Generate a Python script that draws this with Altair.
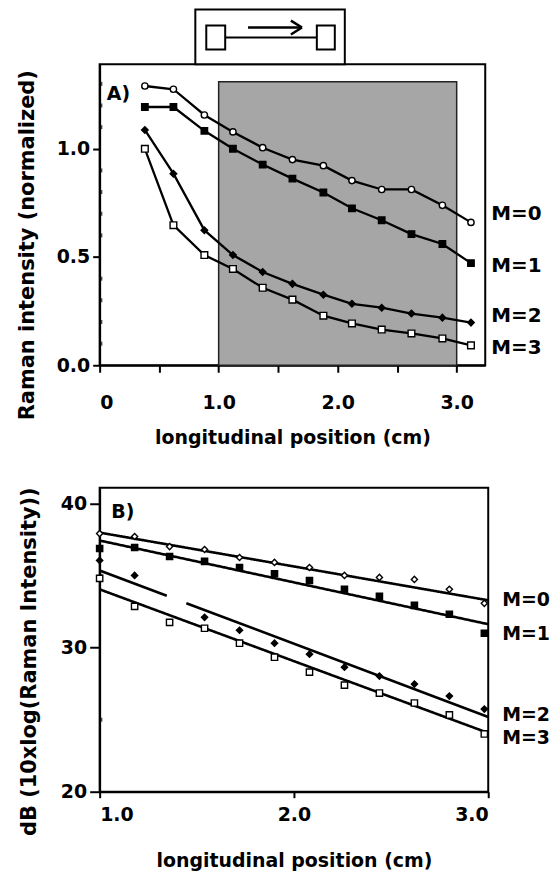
import altair as alt
import pandas as pd

# ---------------- data ----------------
series = ["M=0", "M=1", "M=2", "M=3"]

# Panel A: normalized Raman intensity vs longitudinal position (cm)
x_a = [0.38, 0.62, 0.88, 1.12, 1.37, 1.62, 1.88, 2.12, 2.37, 2.62, 2.88, 3.12]
a_m0 = [1.29, 1.275, 1.156, 1.078, 1.005, 0.95, 0.922, 0.853, 0.812, 0.812, 0.739, 0.66]
a_m1 = [1.193, 1.193, 1.083, 1.0, 0.927, 0.862, 0.798, 0.725, 0.67, 0.606, 0.56, 0.472]
a_m2 = [1.087, 0.885, 0.624, 0.509, 0.431, 0.376, 0.326, 0.284, 0.266, 0.239, 0.22, 0.197]
a_m3 = [1.0, 0.647, 0.509, 0.445, 0.358, 0.303, 0.229, 0.193, 0.165, 0.147, 0.124, 0.092]
shade_x = [1.0, 3.0]
shade_top = 1.31

# Panel B: dB (10 log(Raman intensity)) vs longitudinal position (cm)
x_b = [1.0, 1.18, 1.36, 1.54, 1.72, 1.9, 2.08, 2.26, 2.44, 2.62, 2.8, 2.98]
b_m0 = [37.92, 37.72, 37.02, 36.82, 36.26, 35.92, 35.57, 35.02, 34.88, 34.74, 34.05, 33.08]
b_m1 = [36.89, 36.96, 36.33, 35.99, 35.57, 35.13, 34.67, 34.05, 33.56, 32.94, 32.32, 31.0]
b_m2 = [36.06, 35.02, None, 32.11, 31.21, 30.31, 29.55, 28.65, 28.03, 27.47, 26.64, 25.74]
b_m3 = [34.81, 32.87, 31.76, 31.35, 30.31, 29.34, 28.3, 27.4, 26.85, 26.16, 25.33, 24.01]
fit_x = [1.0, 3.0]
fit_m0 = [37.99, 33.29]
fit_m1 = [37.44, 31.63]
fit_m2 = [35.36, 25.19]
fit_m3 = [34.05, 24.08]

# axis tick values
xa_ticks = [0, 0.5, 1, 1.5, 2, 2.5, 3]
ya_major = [0, 0.5, 1.0]
ya_minor = [0.1, 0.2, 0.3, 0.4, 0.6, 0.7, 0.8, 0.9, 1.1, 1.2, 1.3]
xb_ticks = [1, 2, 3]
yb_major = [20, 30, 40]
yb_minor = [25, 35]


def long_df(xs, ys_list):
    rows = []
    for s, ys in zip(series, ys_list):
        for x, y in zip(xs, ys):
            if y is not None:
                rows.append({"x": x, "y": y, "s": s})
    return pd.DataFrame(rows)


dfa = long_df(x_a, [a_m0, a_m1, a_m2, a_m3])
dfb = long_df(x_b, [b_m0, b_m1, b_m2, b_m3])
dfit = long_df(fit_x, [fit_m0, fit_m1, fit_m2, fit_m3])

FONT = "DejaVu Sans"
WA, HA = 387, 302
WB, HB = 390, 305

ax_common = dict(
    domainColor="black", domainWidth=2, tickColor="black", tickWidth=2,
    labelColor="black", titleColor="black", labelFont=FONT, titleFont=FONT,
    labelFontWeight="bold", titleFontWeight="bold", labelFontSize=19,
    grid=False, labelOverlap=False,
)

# ---------------- panel A ----------------
xa_scale = alt.Scale(domain=[0, 3.24], nice=False, zero=False)
ya_scale = alt.Scale(domain=[0, 1.39], nice=False, zero=False)

xa_axis = alt.Axis(
    values=xa_ticks,
    labelExpr="datum.value == 0 ? '0' : (datum.value % 1 == 0 ? format(datum.value, '.1f') : '')",
    tickSize=7, labelPadding=21, titlePadding=17, titleFontSize=19,
    title="longitudinal position (cm)", **ax_common,
)
ya_axis = alt.Axis(
    values=ya_major, format=".1f", tickSize=7, labelPadding=3,
    titlePadding=19, titleFontSize=21, titleY=181,
    title="Raman intensity (normalized)", **ax_common,
)

XA = lambda f="x:Q": alt.X(f, scale=xa_scale, axis=xa_axis)
YA = lambda f="y:Q": alt.Y(f, scale=ya_scale, axis=ya_axis)

shape_scale = alt.Scale(domain=series, range=["circle", "square", "diamond", "square"])
fill_a = alt.Scale(domain=series, range=["white", "black", "black", "white"])
size_a = alt.Scale(domain=series, range=[40, 45, 60, 75])

shade = alt.Chart(pd.DataFrame({"x": [shade_x[0]], "x2": [shade_x[1]], "y": [0], "y2": [shade_top]})).mark_rect(
    fill="#a6a6a6", stroke="#222222", strokeWidth=1.5
).encode(x=XA(), x2="x2:Q", y=YA(), y2="y2:Q")

minor_a = alt.Chart(pd.DataFrame({"y": ya_minor})).mark_tick(
    color="black", size=4, thickness=1.5, xOffset=2
).encode(x=alt.X(datum=0, scale=xa_scale, axis=xa_axis), y=YA())

lines_a = alt.Chart(dfa).mark_line(color="black", strokeWidth=2.3).encode(
    x=XA(), y=YA(), detail="s:N"
)
points_a = alt.Chart(dfa).mark_point(filled=True, stroke="black", strokeWidth=1.4, opacity=1).encode(
    x=XA(), y=YA(),
    shape=alt.Shape("s:N", scale=shape_scale, legend=None),
    fill=alt.Fill("s:N", scale=fill_a, legend=None),
    size=alt.Size("s:N", scale=size_a, legend=None),
)

label_dy_a = {"M=0": -8, "M=1": 3, "M=2": -7, "M=3": 3}
labels_a = []
for s, ys in zip(series, [a_m0, a_m1, a_m2, a_m3]):
    labels_a.append(
        alt.Chart(pd.DataFrame({"y": [ys[-1]], "t": [s]})).mark_text(
            align="left", baseline="middle", font=FONT, fontWeight="bold",
            fontSize=20, color="black", dy=label_dy_a[s], dx=6,
        ).encode(x=alt.X(datum=3.24, scale=xa_scale, axis=xa_axis), y=YA(), text="t:N")
    )

tag_a = alt.Chart(pd.DataFrame({"t": ["A)"]})).mark_text(
    align="left", baseline="alphabetic", font=FONT, fontWeight="bold",
    fontSize=19, color="black",
).encode(
    x=alt.X(datum=0.06, scale=xa_scale, axis=xa_axis),
    y=alt.Y(datum=1.224, scale=ya_scale, axis=ya_axis),
    text="t:N",
)


# schematic (fiber with arrow) drawn above panel A, in panel A units
def rect_a(x0, x1, y0, y1, fill="white"):
    return alt.Chart(pd.DataFrame({"k": [0]})).mark_rect(
        fill=fill, stroke="black", strokeWidth=2
    ).encode(
        x=alt.X(datum=x0, scale=xa_scale, axis=xa_axis), x2=alt.X2(datum=x1),
        y=alt.Y(datum=y0, scale=ya_scale, axis=ya_axis), y2=alt.Y2(datum=y1),
    )


def rule_a(x0, x1, y0, y1, w=2):
    return alt.Chart(pd.DataFrame({"k": [0]})).mark_rule(
        color="black", strokeWidth=w
    ).encode(
        x=alt.X(datum=x0, scale=xa_scale, axis=xa_axis), x2=alt.X2(datum=x1),
        y=alt.Y(datum=y0, scale=ya_scale, axis=ya_axis), y2=alt.Y2(datum=y1),
    )


diagram = [
    rect_a(0.804, 2.060, 1.39, 1.643),
    rect_a(0.896, 1.055, 1.459, 1.5695),
    rect_a(1.825, 1.976, 1.459, 1.5695),
    rule_a(1.055, 1.825, 1.514, 1.514),
    rule_a(1.247, 1.691, 1.560, 1.560, 2.5),
    rule_a(1.607, 1.700, 1.592, 1.560, 2.5),
    rule_a(1.607, 1.700, 1.528, 1.560, 2.5),
]

panel_a = alt.layer(
    shade, minor_a, lines_a, points_a, *labels_a, tag_a, *diagram
).properties(width=WA, height=HA)

# ---------------- panel B ----------------
xb_scale = alt.Scale(domain=[1.0, 3.0], nice=False, zero=False)
yb_scale = alt.Scale(domain=[20, 41.1], nice=False, zero=False)

xb_axis = alt.Axis(
    values=xb_ticks, format=".1f", tickSize=6, labelPadding=8, labelFlush=True,
    titlePadding=27, titleFontSize=19,
    title="longitudinal position (cm)", **ax_common,
)
yb_axis = alt.Axis(
    values=yb_major, format="d", tickSize=10, labelPadding=3, titlePadding=21,
    titleFontSize=21, titleY=174,
    title="dB (10xlog(Raman Intensity))", **ax_common,
)
XB = lambda f="x:Q": alt.X(f, scale=xb_scale, axis=xb_axis)
YB = lambda f="y:Q": alt.Y(f, scale=yb_scale, axis=yb_axis)

fill_b = alt.Scale(domain=series, range=["white", "black", "black", "white"])
size_b = alt.Scale(domain=series, range=[38, 40, 70, 55])
shape_b = alt.Scale(domain=series, range=["diamond", "square", "diamond", "square"])
dash_b = alt.Scale(domain=series, range=[[1, 0], [1, 0], [72, 21, 1000], [1, 0]])

fits = alt.Chart(dfit).mark_line(color="black", strokeWidth=2.6).encode(
    x=XB(), y=YB(), detail="s:N",
    strokeDash=alt.StrokeDash("s:N", scale=dash_b, legend=None),
)
minor_b = alt.Chart(pd.DataFrame({"y": yb_minor})).mark_tick(
    color="black", size=4, thickness=1.5, xOffset=2
).encode(x=alt.X(datum=1.0, scale=xb_scale, axis=xb_axis), y=YB())

points_b = alt.Chart(dfb).mark_point(filled=True, stroke="black", strokeWidth=1.4, opacity=1).encode(
    x=XB(), y=YB(),
    shape=alt.Shape("s:N", scale=shape_b, legend=None),
    fill=alt.Fill("s:N", scale=fill_b, legend=None),
    size=alt.Size("s:N", scale=size_b, legend=None),
)

label_dy_b = {"M=0": 0, "M=1": 10, "M=2": -2, "M=3": 5}
labels_b = []
for s, ys in zip(series, [fit_m0, fit_m1, fit_m2, fit_m3]):
    labels_b.append(
        alt.Chart(pd.DataFrame({"y": [ys[-1]], "t": [s]})).mark_text(
            align="left", baseline="middle", font=FONT, fontWeight="bold",
            fontSize=19, color="black", dy=label_dy_b[s], dx=14,
        ).encode(x=alt.X(datum=3.0, scale=xb_scale, axis=xb_axis), y=YB(), text="t:N")
    )

tag_b = alt.Chart(pd.DataFrame({"t": ["B)"]})).mark_text(
    align="left", baseline="alphabetic", font=FONT, fontWeight="bold",
    fontSize=19, color="black",
).encode(
    x=alt.X(datum=1.06, scale=xb_scale, axis=xb_axis),
    y=alt.Y(datum=39.0, scale=yb_scale, axis=yb_axis),
    text="t:N",
)

panel_b = alt.layer(fits, minor_b, points_b, *labels_b, tag_b).properties(width=WB, height=HB)

chart = alt.vconcat(panel_a, panel_b, spacing=123, bounds="flush").resolve_scale(
    shape="independent", fill="independent", size="independent", strokeDash="independent"
).properties(
    padding={"left": 15, "top": 6, "right": 0, "bottom": 0},
    background="white",
).configure_view(stroke="black", strokeWidth=2)

chart.save("out.html", embed_options={"renderer": "svg", "actions": False})
